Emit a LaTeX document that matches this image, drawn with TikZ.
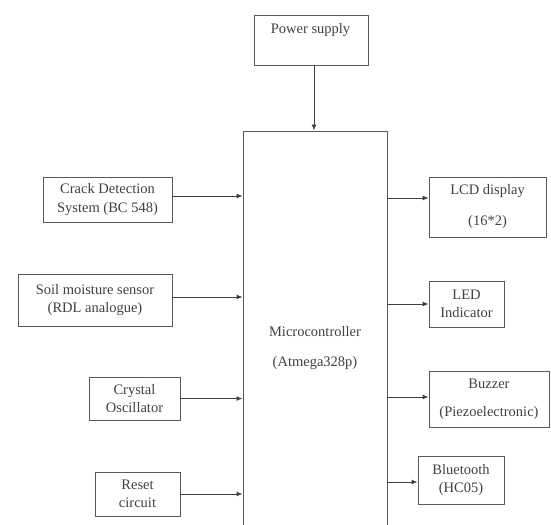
\documentclass[tikz,border=0pt]{standalone}
\usepackage{fontspec}
\setmainfont{Liberation Serif}
\usetikzlibrary{arrows.meta}
\begin{document}
\begin{tikzpicture}[x=1bp,y=-1bp,
  box/.style={draw=black!65, line width=0.9bp, rectangle, inner sep=0pt, align=center,
    text=black!75, font=\fontsize{14.5bp}{18.5bp}\selectfont},
  arr/.style={draw=black!75, line width=0.9bp, -{Latex[length=6bp,width=5bp]}},
  txt/.style={text=black!75, font=\fontsize{14.5bp}{18.5bp}\selectfont, align=center, inner sep=0pt}]
\useasboundingbox (0,0) rectangle (551,525);
\clip (0,0) rectangle (551,525);
% power supply
\node[box, minimum width=114bp, minimum height=50bp] (ps) at (311,40) {};
\node[txt] (pst) at (310.5,30) {Power supply};
% microcontroller
\node[box, minimum width=144bp, minimum height=404bp] (mc) at (315,333) {};
\node[txt, font=\fontsize{14.5bp}{30bp}\selectfont] (mct) at (315,348) {Microcontroller\\(Atmega328p)};
% inputs
\node[box, minimum width=129bp, minimum height=45bp] (crack) at (107.5,199.5) {Crack Detection\\System (BC 548)};
\node[box, minimum width=154bp, minimum height=52bp] (soil) at (95,300) {Soil moisture sensor\\(RDL analogue)};
\node[box, minimum width=91bp, minimum height=43bp] (xtal) at (134.5,398.5) {Crystal\\Oscillator};
\node[box, minimum width=85bp, minimum height=44bp] (reset) at (137.5,494) {Reset\\circuit};
% outputs
\node[box, minimum width=117bp, minimum height=60bp, font=\fontsize{14.5bp}{31bp}\selectfont] (lcd) at (487.5,207) {LCD display\\(16*2)};
\node[box, minimum width=75bp, minimum height=46bp] (led) at (466.5,304) {LED\\Indicator};
\node[box, minimum width=120bp, minimum height=56bp, font=\fontsize{14.5bp}{28bp}\selectfont] (buz) at (489,399) {Buzzer\\(Piezoelectronic)};
\node[box, minimum width=86bp, minimum height=48bp] (bt) at (461,480) {Bluetooth\\(HC05)};
% connectors
\draw[arr] (314,0 |- ps.south) -- (314,0 |- mc.north);
\draw[arr] ([yshift=3.5bp]crack.east) -- ([yshift=3.5bp]crack.east -| mc.west);
\draw[arr] ([yshift=3bp]soil.east) -- ([yshift=3bp]soil.east -| mc.west);
\draw[arr] (xtal.east) -- (xtal.east -| mc.west);
\draw[arr] (reset.east) -- (reset.east -| mc.west);
\draw[arr] ([yshift=9bp]lcd.west -| mc.east) -- ([yshift=9bp]lcd.west);
\draw[arr] (led.west -| mc.east) -- (led.west);
\draw[arr] ([yshift=2bp]buz.west -| mc.east) -- ([yshift=2bp]buz.west);
\draw[arr] ([yshift=-2bp]bt.west -| mc.east) -- ([yshift=-2bp]bt.west);
\end{tikzpicture}
\end{document}
